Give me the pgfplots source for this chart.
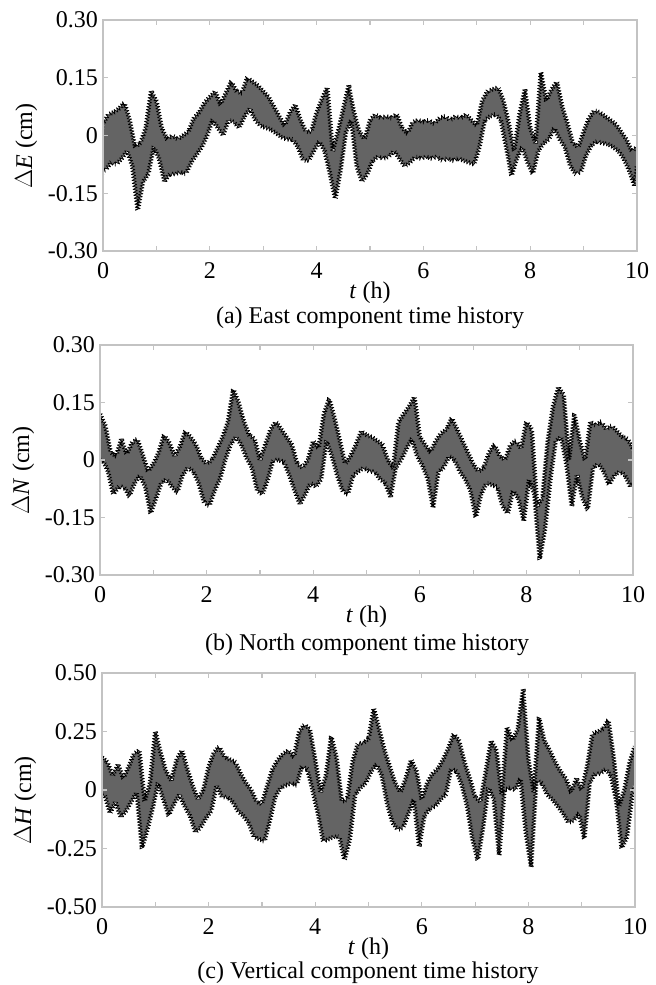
\documentclass[border=0pt]{standalone}
\usepackage{pgfplots}
\usepackage{pgfplotstable}
\pgfplotsset{compat=1.18}
\usetikzlibrary{decorations.pathmorphing}
\usepackage{fontspec}
\setmainfont{Liberation Serif}
\definecolor{frame}{RGB}{195,195,195}
\definecolor{band}{RGB}{100,100,100}

% East: upper and lower edges of the trace band
\pgfplotstableread[row sep=\\]{
t y\\
0 0.03\\ 0.1 0.055\\ 0.2 0.06\\ 0.3 0.07\\ 0.4 0.085\\ 0.5 0.04\\ 0.6 -0.03\\ 0.7 -0.02\\ 0.8 0.02\\ 0.9 0.115\\
1.0 0.09\\ 1.1 0.02\\ 1.2 -0.01\\ 1.3 0.0\\ 1.4 -0.01\\ 1.5 0.0\\ 1.6 0.01\\ 1.7 0.045\\ 1.8 0.06\\ 1.9 0.085\\
2.0 0.10\\ 2.1 0.115\\ 2.2 0.08\\ 2.3 0.11\\ 2.4 0.14\\ 2.5 0.115\\ 2.6 0.11\\ 2.7 0.15\\ 2.8 0.14\\ 2.9 0.13\\
3.0 0.115\\ 3.1 0.10\\ 3.2 0.075\\ 3.3 0.05\\ 3.4 0.025\\ 3.5 0.06\\ 3.6 0.08\\ 3.7 0.04\\ 3.8 0.01\\ 3.9 0.01\\
4.0 0.06\\ 4.1 0.095\\ 4.2 0.125\\ 4.3 -0.04\\ 4.4 0.01\\ 4.5 0.07\\ 4.6 0.13\\ 4.7 0.06\\ 4.8 0.01\\ 4.9 -0.01\\
5.0 0.04\\ 5.1 0.055\\ 5.2 0.045\\ 5.3 0.05\\ 5.4 0.045\\ 5.5 0.056\\ 5.6 0.02\\ 5.7 0.005\\ 5.8 0.035\\ 5.9 0.04\\
6.0 0.035\\ 6.1 0.04\\ 6.2 0.03\\ 6.3 0.045\\ 6.4 0.05\\ 6.5 0.04\\ 6.6 0.05\\ 6.7 0.045\\ 6.8 0.055\\ 6.9 0.04\\
7.0 0.025\\ 7.1 0.09\\ 7.2 0.115\\ 7.3 0.12\\ 7.4 0.125\\ 7.5 0.09\\ 7.6 0.03\\ 7.7 -0.04\\ 7.8 0.055\\ 7.9 0.12\\
8.0 0.02\\ 8.1 -0.02\\ 8.2 0.165\\ 8.3 0.09\\ 8.4 0.12\\ 8.5 0.14\\ 8.6 0.075\\ 8.7 0.03\\ 8.8 -0.02\\ 8.9 -0.03\\
9.0 0.01\\ 9.1 0.045\\ 9.2 0.065\\ 9.3 0.06\\ 9.4 0.05\\ 9.5 0.04\\ 9.6 0.03\\ 9.7 0.01\\ 9.8 -0.01\\ 9.9 -0.04\\
10.0 -0.03\\
}\upE
\pgfplotstableread[row sep=\\]{
t y\\
0 -0.09\\ 0.05 -0.09\\ 0.15 -0.07\\ 0.25 -0.075\\ 0.35 -0.06\\ 0.45 -0.04\\ 0.55 -0.08\\ 0.65 -0.195\\ 0.75 -0.12\\ 0.85 -0.10\\ 0.95 -0.03\\
1.05 -0.06\\ 1.15 -0.12\\ 1.25 -0.10\\ 1.35 -0.10\\ 1.45 -0.095\\ 1.55 -0.10\\ 1.65 -0.07\\ 1.75 -0.05\\ 1.85 -0.03\\ 1.95 0.0\\
2.05 0.04\\ 2.15 0.02\\ 2.25 0.0\\ 2.35 0.04\\ 2.45 0.035\\ 2.55 0.02\\ 2.65 0.05\\ 2.75 0.07\\ 2.85 0.04\\ 2.95 0.025\\
3.05 0.02\\ 3.15 0.015\\ 3.25 0.005\\ 3.35 -0.005\\ 3.45 -0.01\\ 3.55 -0.01\\ 3.65 -0.03\\ 3.75 -0.065\\ 3.85 -0.065\\ 3.95 -0.04\\
4.05 -0.015\\ 4.15 -0.04\\ 4.25 -0.10\\ 4.35 -0.165\\ 4.45 -0.09\\ 4.55 0.01\\ 4.65 0.04\\ 4.75 -0.08\\ 4.85 -0.12\\ 4.95 -0.10\\
5.05 -0.065\\ 5.15 -0.055\\ 5.25 -0.06\\ 5.35 -0.055\\ 5.45 -0.04\\ 5.55 -0.06\\ 5.65 -0.08\\ 5.75 -0.07\\ 5.85 -0.055\\ 5.95 -0.06\\
6.05 -0.055\\ 6.15 -0.06\\ 6.25 -0.055\\ 6.35 -0.065\\ 6.45 -0.06\\ 6.55 -0.065\\ 6.65 -0.06\\ 6.75 -0.065\\ 6.85 -0.07\\ 6.95 -0.075\\
7.05 -0.03\\ 7.15 0.04\\ 7.25 0.05\\ 7.35 0.055\\ 7.45 0.04\\ 7.55 -0.03\\ 7.65 -0.105\\ 7.75 -0.06\\ 7.85 -0.03\\ 7.95 -0.07\\
8.05 -0.10\\ 8.15 -0.04\\ 8.25 -0.02\\ 8.35 -0.01\\ 8.45 0.02\\ 8.55 -0.01\\ 8.65 -0.03\\ 8.75 -0.08\\ 8.85 -0.10\\ 8.95 -0.095\\
9.05 -0.05\\ 9.15 -0.025\\ 9.25 -0.015\\ 9.35 -0.02\\ 9.45 -0.022\\ 9.55 -0.03\\ 9.65 -0.04\\ 9.75 -0.06\\ 9.85 -0.09\\ 9.95 -0.13\\
10.0 -0.08\\
}\loE

% North
\pgfplotstableread[row sep=\\]{
t y\\
0 0.12\\ 0.1 0.09\\ 0.2 0.02\\ 0.3 0.01\\ 0.4 0.055\\ 0.5 0.015\\ 0.6 0.045\\ 0.7 0.055\\ 0.8 0.015\\ 0.9 -0.03\\
1.0 -0.01\\ 1.1 0.02\\ 1.2 0.065\\ 1.3 0.045\\ 1.4 0.01\\ 1.5 0.035\\ 1.6 0.075\\ 1.7 0.06\\ 1.8 0.04\\ 1.9 0.005\\
2.0 -0.01\\ 2.1 0.0\\ 2.2 0.03\\ 2.3 0.06\\ 2.4 0.10\\ 2.5 0.185\\ 2.6 0.15\\ 2.7 0.10\\ 2.8 0.065\\ 2.9 0.055\\
3.0 0.0\\ 3.1 0.04\\ 3.2 0.08\\ 3.3 0.10\\ 3.4 0.08\\ 3.5 0.06\\ 3.6 0.04\\ 3.7 -0.01\\ 3.8 -0.02\\ 3.9 0.0\\
4.0 0.05\\ 4.1 0.03\\ 4.2 0.12\\ 4.3 0.16\\ 4.4 0.11\\ 4.5 0.05\\ 4.6 -0.01\\ 4.7 0.01\\ 4.8 0.04\\ 4.9 0.075\\
5.0 0.065\\ 5.1 0.06\\ 5.2 0.05\\ 5.3 0.04\\ 5.4 0.0\\ 5.5 -0.02\\ 5.6 0.10\\ 5.7 0.12\\ 5.8 0.14\\ 5.9 0.165\\
6.0 0.06\\ 6.1 0.04\\ 6.2 0.02\\ 6.3 0.05\\ 6.4 0.07\\ 6.5 0.08\\ 6.6 0.11\\ 6.7 0.08\\ 6.8 0.05\\ 6.9 0.02\\
7.0 -0.01\\ 7.1 -0.03\\ 7.2 -0.02\\ 7.3 0.02\\ 7.4 0.04\\ 7.5 0.01\\ 7.6 0.0\\ 7.7 0.04\\ 7.8 0.05\\ 7.9 0.03\\
8.0 0.10\\ 8.1 0.08\\ 8.2 -0.12\\ 8.3 -0.10\\ 8.4 0.05\\ 8.5 0.14\\ 8.6 0.19\\ 8.7 0.17\\ 8.8 0.0\\ 8.9 0.12\\
9.0 0.05\\ 9.1 0.0\\ 9.2 0.10\\ 9.3 0.09\\ 9.4 0.10\\ 9.5 0.08\\ 9.6 0.09\\ 9.7 0.075\\ 9.8 0.06\\ 9.9 0.055\\
10.0 0.03\\
}\upN
\pgfplotstableread[row sep=\\]{
t y\\
0 0.0\\ 0.05 0.0\\ 0.15 -0.03\\ 0.25 -0.09\\ 0.35 -0.07\\ 0.45 -0.07\\ 0.55 -0.095\\ 0.65 -0.06\\ 0.75 -0.04\\ 0.85 -0.07\\ 0.95 -0.14\\
1.05 -0.10\\ 1.15 -0.06\\ 1.25 -0.05\\ 1.35 -0.07\\ 1.45 -0.085\\ 1.55 -0.04\\ 1.65 -0.02\\ 1.75 -0.03\\ 1.85 -0.06\\ 1.95 -0.11\\
2.05 -0.12\\ 2.15 -0.08\\ 2.25 -0.05\\ 2.35 0.0\\ 2.45 0.04\\ 2.55 0.06\\ 2.65 0.04\\ 2.75 0.005\\ 2.85 -0.02\\ 2.95 -0.08\\
3.05 -0.09\\ 3.15 -0.05\\ 3.25 0.0\\ 3.35 0.0\\ 3.45 -0.005\\ 3.55 -0.04\\ 3.65 -0.08\\ 3.75 -0.115\\ 3.85 -0.09\\ 3.95 -0.06\\
4.05 -0.07\\ 4.15 -0.05\\ 4.25 0.05\\ 4.35 0.01\\ 4.45 -0.04\\ 4.55 -0.08\\ 4.65 -0.09\\ 4.75 -0.04\\ 4.85 -0.03\\ 4.95 -0.02\\
5.05 -0.03\\ 5.15 -0.03\\ 5.25 -0.05\\ 5.35 -0.06\\ 5.45 -0.097\\ 5.55 -0.02\\ 5.65 0.0\\ 5.75 0.03\\ 5.85 0.055\\ 5.95 0.01\\
6.05 -0.015\\ 6.15 -0.05\\ 6.25 -0.125\\ 6.35 -0.03\\ 6.45 -0.02\\ 6.55 0.01\\ 6.65 0.0\\ 6.75 -0.03\\ 6.85 -0.05\\ 6.95 -0.08\\
7.05 -0.15\\ 7.15 -0.09\\ 7.25 -0.06\\ 7.35 -0.065\\ 7.45 -0.07\\ 7.55 -0.12\\ 7.65 -0.14\\ 7.75 -0.08\\ 7.85 -0.10\\ 7.95 -0.16\\
8.05 -0.05\\ 8.15 -0.09\\ 8.25 -0.26\\ 8.35 -0.18\\ 8.45 -0.05\\ 8.55 0.05\\ 8.65 0.06\\ 8.75 -0.01\\ 8.85 -0.12\\ 8.95 -0.04\\
9.05 -0.10\\ 9.15 -0.13\\ 9.25 -0.02\\ 9.35 -0.01\\ 9.45 -0.03\\ 9.55 -0.065\\ 9.65 -0.04\\ 9.75 -0.03\\ 9.85 -0.04\\ 9.95 -0.07\\
10.0 -0.06\\
}\loN

% Vertical
\pgfplotstableread[row sep=\\]{
t y\\
0 0.14\\ 0.1 0.12\\ 0.2 0.06\\ 0.3 0.11\\ 0.4 0.05\\ 0.5 0.10\\ 0.6 0.155\\ 0.7 0.17\\ 0.8 -0.05\\ 0.9 0.03\\
1.0 0.25\\ 1.1 0.16\\ 1.2 0.08\\ 1.3 0.04\\ 1.4 0.13\\ 1.5 0.17\\ 1.6 0.09\\ 1.7 0.02\\ 1.8 -0.04\\ 1.9 0.0\\
2.0 0.10\\ 2.1 0.16\\ 2.2 0.185\\ 2.3 0.14\\ 2.4 0.13\\ 2.5 0.12\\ 2.6 0.07\\ 2.7 0.03\\ 2.8 0.0\\ 2.9 -0.05\\
3.0 -0.06\\ 3.1 0.02\\ 3.2 0.09\\ 3.3 0.13\\ 3.4 0.155\\ 3.5 0.17\\ 3.6 0.14\\ 3.7 0.25\\ 3.8 0.28\\ 3.9 0.26\\
4.0 0.13\\ 4.1 -0.01\\ 4.2 0.06\\ 4.3 0.23\\ 4.4 0.14\\ 4.5 -0.05\\ 4.6 -0.04\\ 4.7 0.12\\ 4.8 0.20\\ 4.9 0.20\\
5.0 0.22\\ 5.1 0.35\\ 5.2 0.26\\ 5.3 0.17\\ 5.4 0.10\\ 5.5 0.03\\ 5.6 -0.01\\ 5.7 0.05\\ 5.8 0.13\\ 5.9 0.08\\
6.0 -0.04\\ 6.1 0.03\\ 6.2 0.07\\ 6.3 0.09\\ 6.4 0.13\\ 6.5 0.18\\ 6.6 0.24\\ 6.7 0.21\\ 6.8 0.12\\ 6.9 0.05\\
7.0 -0.03\\ 7.1 -0.05\\ 7.2 0.08\\ 7.3 0.21\\ 7.4 0.17\\ 7.5 -0.02\\ 7.6 0.27\\ 7.7 0.21\\ 7.8 0.26\\ 7.9 0.43\\
8.0 0.13\\ 8.1 -0.01\\ 8.2 0.31\\ 8.3 0.21\\ 8.4 0.17\\ 8.5 0.12\\ 8.6 0.08\\ 8.7 0.05\\ 8.8 -0.01\\ 8.9 0.05\\
9.0 0.0\\ 9.1 0.10\\ 9.2 0.24\\ 9.3 0.25\\ 9.4 0.26\\ 9.5 0.30\\ 9.6 0.14\\ 9.7 -0.07\\ 9.8 0.0\\ 9.9 0.12\\
10.0 0.19\\
}\upH
\pgfplotstableread[row sep=\\]{
t y\\
0 -0.02\\ 0.05 -0.02\\ 0.15 -0.10\\ 0.25 -0.05\\ 0.35 -0.115\\ 0.45 -0.09\\ 0.55 -0.05\\ 0.65 -0.01\\ 0.75 -0.25\\ 0.85 -0.17\\ 0.95 -0.08\\
1.05 0.03\\ 1.15 -0.04\\ 1.25 -0.11\\ 1.35 -0.06\\ 1.45 -0.02\\ 1.55 -0.07\\ 1.65 -0.11\\ 1.75 -0.18\\ 1.85 -0.16\\ 1.95 -0.12\\
2.05 -0.09\\ 2.15 0.02\\ 2.25 -0.03\\ 2.35 -0.03\\ 2.45 -0.05\\ 2.55 -0.09\\ 2.65 -0.11\\ 2.75 -0.14\\ 2.85 -0.20\\ 2.95 -0.21\\
3.05 -0.22\\ 3.15 -0.13\\ 3.25 -0.03\\ 3.35 0.01\\ 3.45 0.02\\ 3.55 0.03\\ 3.65 0.02\\ 3.75 0.10\\ 3.85 0.09\\ 3.95 0.0\\
4.05 -0.10\\ 4.15 -0.22\\ 4.25 -0.21\\ 4.35 -0.20\\ 4.45 -0.20\\ 4.55 -0.30\\ 4.65 -0.21\\ 4.75 -0.02\\ 4.85 0.01\\ 4.95 0.03\\
5.05 0.08\\ 5.15 0.11\\ 5.25 0.06\\ 5.35 -0.06\\ 5.45 -0.14\\ 5.55 -0.17\\ 5.65 -0.16\\ 5.75 -0.10\\ 5.85 -0.04\\ 5.95 -0.24\\
6.05 -0.11\\ 6.15 -0.08\\ 6.25 -0.07\\ 6.35 -0.04\\ 6.45 -0.02\\ 6.55 0.09\\ 6.65 0.08\\ 6.75 0.02\\ 6.85 -0.07\\ 6.95 -0.21\\
7.05 -0.30\\ 7.15 -0.16\\ 7.25 0.01\\ 7.35 -0.04\\ 7.45 -0.28\\ 7.55 0.0\\ 7.65 0.01\\ 7.75 0.0\\ 7.85 0.05\\ 7.95 -0.18\\
8.05 -0.33\\ 8.15 0.04\\ 8.25 0.03\\ 8.35 -0.02\\ 8.45 -0.04\\ 8.55 -0.07\\ 8.65 -0.10\\ 8.75 -0.14\\ 8.85 -0.13\\ 8.95 -0.10\\
9.05 -0.21\\ 9.15 0.03\\ 9.25 0.07\\ 9.35 0.07\\ 9.45 0.09\\ 9.55 0.06\\ 9.65 -0.05\\ 9.75 -0.25\\ 9.85 -0.20\\ 9.95 -0.02\\
10.0 0.02\\
}\loH

\pgfplotsset{
  panel/.style={
    scale only axis, axis on top,
    xmin=0, xmax=10,
    xtick={0,2,4,6,8,10}, xticklabels={0,2,4,6,8,10},
    minor xtick={1,3,5,7,9},
    major tick length=5bp, minor tick length=5bp,
    tick align=inside,
    every tick/.style={draw=frame, line width=1.2bp},
    axis line style={draw=frame, line width=1.5bp},
    ticklabel style={font=\fontsize{24bp}{28bp}\selectfont, inner sep=1bp},
    xticklabel style={yshift=-10bp},
    yticklabel style={xshift=-4bp},
    xlabel={\textit{t} (h)},
    every axis x label/.style={at={(axis description cs:0.5,0)}, anchor=center, yshift=-42bp,
      font=\fontsize{24bp}{28bp}\selectfont},
    every axis y label/.style={at={(axis description cs:-0.144,0.455)}, rotate=90, anchor=center,
      font=\fontsize{24bp}{28bp}\selectfont},
  },
  noisy/.style={decorate, decoration={zigzag, segment length=3bp, amplitude=2.1bp}},
  edge/.style={draw=black, line width=0.7bp, line join=round, no markers, noisy},
  upfill/.style={fill=band, draw=none, no markers, noisy},
  lofill/.style={fill=white, draw=none, no markers, noisy},
}

\begin{document}
\begin{tikzpicture}
\useasboundingbox (0,0) rectangle (656bp,-985bp);

\begin{axis}[panel, at={(103bp,-251bp)}, anchor=south west, width=534bp, height=231bp,
  ymin=-0.30, ymax=0.30, ytick={-0.30,-0.15,0,0.15,0.30}, yticklabels={-0.30,-0.15,0,0.15,0.30},
  ylabel={$\Delta$\textit{E} (cm)}]
  \addplot[upfill] table[x=t,y=y] {\upE} -- (axis cs:10.2,-0.35) -- (axis cs:-0.2,-0.35) -- cycle;
  \addplot[lofill] table[x=t,y=y] {\loE} -- (axis cs:10.2,-0.35) -- (axis cs:-0.2,-0.35) -- cycle;
  \addplot[edge] table[x=t,y=y] {\upE};
  \addplot[edge] table[x=t,y=y] {\loE};
\end{axis}
\node[font=\fontsize{24bp}{28bp}\selectfont] at (370bp,-318bp) {(a) East component time history};

\begin{axis}[panel, at={(100bp,-575bp)}, anchor=south west, width=533bp, height=230bp,
  ymin=-0.30, ymax=0.30, ytick={-0.30,-0.15,0,0.15,0.30}, yticklabels={-0.30,-0.15,0,0.15,0.30},
  ylabel={$\Delta$\textit{N} (cm)}]
  \addplot[upfill] table[x=t,y=y] {\upN} -- (axis cs:10.2,-0.35) -- (axis cs:-0.2,-0.35) -- cycle;
  \addplot[lofill] table[x=t,y=y] {\loN} -- (axis cs:10.2,-0.35) -- (axis cs:-0.2,-0.35) -- cycle;
  \addplot[edge] table[x=t,y=y] {\upN};
  \addplot[edge] table[x=t,y=y] {\loN};
\end{axis}
\node[font=\fontsize{24bp}{28bp}\selectfont] at (367bp,-645bp) {(b) North component time history};

\begin{axis}[panel, at={(102bp,-907bp)}, anchor=south west, width=533bp, height=234bp,
  ymin=-0.50, ymax=0.50, ytick={-0.50,-0.25,0,0.25,0.50}, yticklabels={-0.50,-0.25,0,0.25,0.50},
  ylabel={$\Delta$\textit{H} (cm)}]
  \addplot[upfill] table[x=t,y=y] {\upH} -- (axis cs:10.2,-0.55) -- (axis cs:-0.2,-0.55) -- cycle;
  \addplot[lofill] table[x=t,y=y] {\loH} -- (axis cs:10.2,-0.55) -- (axis cs:-0.2,-0.55) -- cycle;
  \addplot[edge] table[x=t,y=y] {\upH};
  \addplot[edge] table[x=t,y=y] {\loH};
\end{axis}
\node[font=\fontsize{24bp}{28bp}\selectfont] at (368bp,-973bp) {(c) Vertical component time history};
\end{tikzpicture}
\end{document}
